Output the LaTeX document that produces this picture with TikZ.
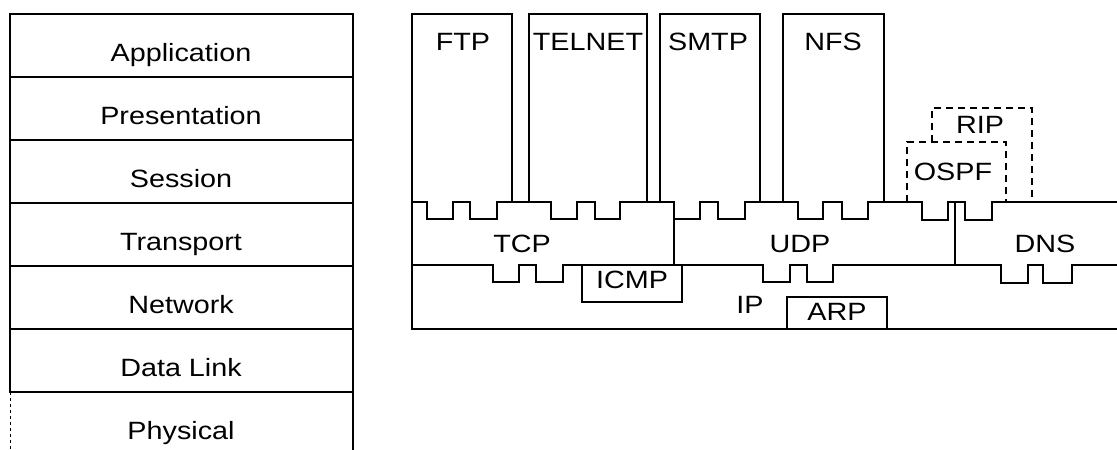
\documentclass[tikz,border=0pt]{standalone}
\usepackage{fontspec}
\setmainfont{Liberation Sans}[FakeStretch=1.15]
\begin{document}
\begin{tikzpicture}[x=1pt,y=-1pt,
  ln/.style={line width=1.7pt, line cap=rect},
  thin/.style={line width=1pt},
  dsh/.style={line width=1.3pt, dash pattern=on 7pt off 5pt},
  lbl/.style={anchor=base, inner sep=0pt, font=\fontsize{25}{30}\selectfont}]
\useasboundingbox (0,0) rectangle (1117,450);
% ---------------- OSI stack ----------------
\draw[ln] (10,14) -- (353,14);
\draw[ln] (353,14) -- (353,450);
\draw[ln] (10,14) -- (10,392);
\draw[thin, dash pattern=on 3pt off 3pt] (10,392) -- (10,450);
\foreach \yy in {77,140,203,266,329,392} \draw[ln] (10,\yy) -- (353,\yy);
\node[lbl] (app) at (181,61) {Application};
\node[lbl] (pres) at (181,124) {Presentation};
\node[lbl] (sess) at (181,187) {Session};
\node[lbl] (trans) at (181,250) {Transport};
\node[lbl] (net) at (181,313) {Network};
\node[lbl] (dl) at (181,376) {Data Link};
\node[lbl] (phys) at (181,439) {Physical};
% ---------------- Application protocols ----------------
\draw[ln] (412,202) -- (412,14) -- (512,14) -- (512,202);
\draw[ln] (529,202) -- (529,14) -- (647,14) -- (647,202);
\draw[ln] (660,202) -- (660,14) -- (760,14) -- (760,202);
\draw[ln] (783,202) -- (783,14) -- (884,14) -- (884,202);
\draw[dsh] (907,202) -- (907,142) -- (1006,142) -- (1006,202);
\draw[dsh] (932,142) -- (932,108) -- (1032,108) -- (1032,202);
% ---------------- Transport layer ----------------
\draw[ln] (412,202) -- (427,202) -- (427,219) -- (453,219) -- (453,202)
  -- (470,202) -- (470,219) -- (497,219) -- (497,202)
  -- (551,202) -- (551,219) -- (577,219) -- (577,202)
  -- (595,202) -- (595,219) -- (620,219) -- (620,202)
  -- (674,202) -- (674,265);
\draw[ln] (674,219) -- (700,219) -- (700,202) -- (718,202) -- (718,219)
  -- (745,219) -- (745,202) -- (798,202) -- (798,219) -- (823,219)
  -- (823,202) -- (842,202) -- (842,219) -- (868,219) -- (868,202)
  -- (922,202) -- (922,220) -- (948,220) -- (948,202)
  -- (965,202) -- (965,220) -- (992,220) -- (992,202) -- (1117,202);
\draw[ln] (955,202) -- (955,265);
% ---------------- IP layer ----------------
\draw[ln] (412,265) -- (493,265) -- (493,282) -- (519,282) -- (519,265)
  -- (536,265) -- (536,282) -- (563,282) -- (563,265)
  -- (763,265) -- (763,282) -- (790,282) -- (790,265)
  -- (807,265) -- (807,282) -- (833,282) -- (833,265)
  -- (1001,265) -- (1001,283) -- (1028,283) -- (1028,265)
  -- (1043,265) -- (1043,283) -- (1072,283) -- (1072,265) -- (1117,265);
\draw[ln] (412,202) -- (412,329) -- (1117,329);
\draw[ln] (582,265) -- (582,302) -- (682,302) -- (682,265);
\draw[ln] (787,329) -- (787,297) -- (887,297) -- (887,329);
% ---------------- labels ----------------
\node[lbl] (ftp) at (463,50) {FTP};
\node[lbl] (telnet) at (588,50) {TELNET};
\node[lbl] (smtp) at (708,50) {SMTP};
\node[lbl] (nfs) at (833,50) {NFS};
\node[lbl] (rip) at (980,133) {RIP};
\node[lbl] (ospf) at (953,180) {OSPF};
\node[lbl] (tcp) at (522,252) {TCP};
\node[lbl] (udp) at (800,252) {UDP};
\node[lbl] (dns) at (1045,252) {DNS};
\node[lbl] (icmp) at (632,288) {ICMP};
\node[lbl] (ip) at (750,313) {IP};
\node[lbl] (arp) at (837,320) {ARP};
\end{tikzpicture}
\end{document}
